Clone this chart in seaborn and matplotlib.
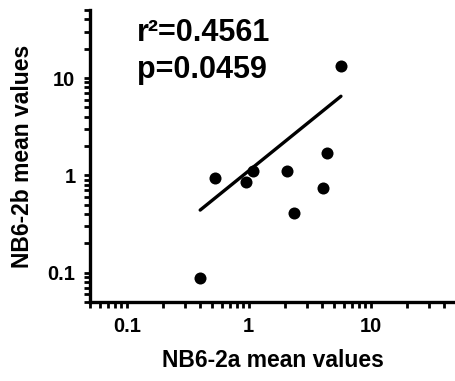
import matplotlib
matplotlib.use("Agg")
import matplotlib.pyplot as plt
import seaborn as sns
import pandas as pd
from matplotlib.ticker import LogLocator, FixedLocator, FixedFormatter, NullFormatter

# data
nb6_2a = [5.68, 0.53, 0.957, 1.09, 2.05, 2.35, 4.10, 4.42, 0.40]
nb6_2b = [13.2, 0.95, 0.85, 1.10, 1.11, 0.41, 0.75, 1.71, 0.088]
fit_x = [0.40, 5.7]
fit_y = [0.44, 6.5]
tick_vals = [0.1, 1, 10]
tick_labels = ["0.1", "1", "10"]
r2_text = "r²=0.4561"
p_text = "p=0.0459"

sns.set_style("ticks")
plt.rcParams["font.family"] = ["Liberation Sans", "DejaVu Sans"]
plt.rcParams["font.weight"] = "bold"
plt.rcParams["text.color"] = "black"
plt.rcParams["axes.labelcolor"] = "black"
plt.rcParams["xtick.color"] = "black"
plt.rcParams["ytick.color"] = "black"
plt.rcParams["xtick.labelcolor"] = "black"
plt.rcParams["ytick.labelcolor"] = "black"

df = pd.DataFrame({"a": nb6_2a, "b": nb6_2b})
fit = pd.DataFrame({"x": fit_x, "y": fit_y})

fig = plt.figure(figsize=(4.56, 3.81), dpi=100)
ax = fig.add_axes([90/456, 79/381, 1 - 90/456, 292/381])

sns.scatterplot(data=df, x="a", y="b", ax=ax, color="black", s=75,
                edgecolor="black", linewidth=0, zorder=3, legend=False)
sns.lineplot(data=fit, x="x", y="y", ax=ax, color="black", linewidth=2.4,
             zorder=2, legend=False)

ax.set_xscale("log")
ax.set_yscale("log")
ax.set_xlim(0.05, 50)
ax.set_ylim(0.05, 50)

for axis in (ax.xaxis, ax.yaxis):
    axis.set_major_locator(FixedLocator(tick_vals))
    axis.set_major_formatter(FixedFormatter(tick_labels))
    axis.set_minor_locator(LogLocator(base=10, subs=range(2, 10)))
    axis.set_minor_formatter(NullFormatter())

ax.tick_params(which="major", direction="out", length=4.5, width=2.0,
               labelsize=14.5, pad=6, color="black", labelcolor="black")
ax.tick_params(which="minor", direction="out", length=4, width=2.0, color="black")
for lab in ax.get_xticklabels() + ax.get_yticklabels():
    lab.set_fontweight("bold")

for s in ["top", "right"]:
    ax.spines[s].set_visible(False)
for s in ["left", "bottom"]:
    ax.spines[s].set_linewidth(2.4)
    ax.spines[s].set_color("black")

ax.set_xlabel("NB6-2a mean values", fontsize=16.5, fontweight="bold",
              labelpad=10, color="black")
ax.set_ylabel("NB6-2b mean values", fontsize=16.5, fontweight="bold",
              labelpad=10, color="black")

fig.text(137/456, (381-41)/381, r2_text, fontsize=22, fontweight="bold",
         ha="left", va="baseline", color="black")
fig.text(137/456, (381-78)/381, p_text, fontsize=22, fontweight="bold",
         ha="left", va="baseline", color="black")

fig.savefig("out.png", dpi=100)
